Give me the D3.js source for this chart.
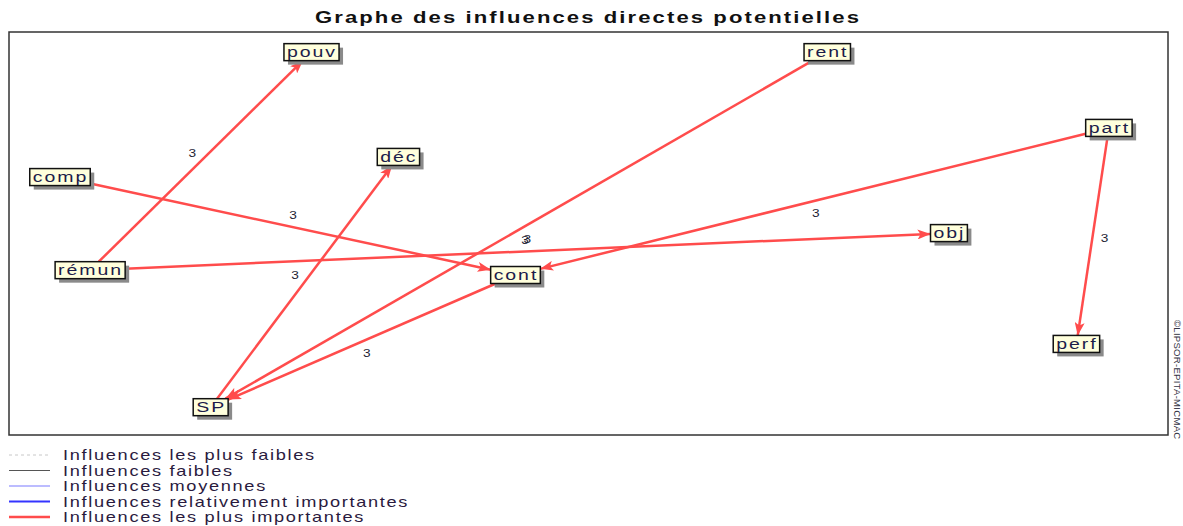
<!DOCTYPE html>
<html>
<head>
<meta charset="utf-8">
<script src="https://cdn.jsdelivr.net/npm/d3@7"></script>
<style>
	body { margin: 0; background: #ffffff; }
	svg { display: block; }
</style>
</head>
<body>
<div id="chart"></div>
<script>
// graphe MICMAC - influences directes potentielles
var titleText = "Graphe des influences directes potentielles";
var copyrightText = "\u00a9LIPSOR-EPITA-MICMAC";

var nodeNames = ["pouv", "rent", "part", "déc", "comp", "obj", "rémun", "cont", "perf", "SP"];
var nodeX = [26.1, 70.6, 94.9, 33.6, 4.4, 81.1, 7.0, 43.7, 92.1, 17.4];
var nodeY = [95.0, 95.0, 76.2, 69.0, 64.0, 50.1, 40.9, 39.7, 22.6, 6.9];

var edgeFrom = ["rémun", "comp", "rémun", "SP", "rent", "part", "cont", "part"];
var edgeTo = ["pouv", "cont", "obj", "déc", "SP", "cont", "SP", "perf"];
var edgeValue = [3, 3, 3, 3, 3, 3, 3, 3];

var legendLabels = [
	"Influences les plus faibles",
	"Influences faibles",
	"Influences moyennes",
	"Influences relativement importantes",
	"Influences les plus importantes"
];

var W = 1183, H = 526;
var frame = {left: 9, top: 32, right: 1168, bottom: 435};
var red = "#ff4c4c";
var stretch = 1.3; // the original texts are drawn wide
var font = "Liberation Sans, Arial, sans-serif";

var svg = d3.select("#chart")
	.append("svg")
	.attr("width", W)
	.attr("height", H);

var x = d3.scaleLinear().domain([0, 100]).range([frame.left, frame.right]);
var y = d3.scaleLinear().domain([0, 100]).range([frame.bottom, frame.top]);

svg.append("text")
	.attr("transform", "translate(588,23) scale(" + stretch + ",1)")
	.attr("text-anchor", "middle")
	.attr("font-family", font)
	.attr("font-weight", "bold")
	.attr("font-size", 17)
	.attr("letter-spacing", 1.6)
	.attr("fill", "#111")
	.text(titleText);

svg.append("rect")
	.attr("x", frame.left)
	.attr("y", frame.top)
	.attr("width", frame.right - frame.left)
	.attr("height", frame.bottom - frame.top)
	.attr("fill", "none")
	.attr("stroke", "#333")
	.attr("stroke-width", 1.5);

svg.append("text")
	.attr("transform", "translate(1174,320) rotate(90)")
	.attr("font-family", font)
	.attr("font-size", 9.5)
	.attr("letter-spacing", 0.3)
	.attr("fill", "#334")
	.text(copyrightText);

svg.append("defs").append("marker")
	.attr("id", "head")
	.attr("markerUnits", "userSpaceOnUse")
	.attr("viewBox", "0 0 13 10")
	.attr("refX", 13)
	.attr("refY", 5)
	.attr("markerWidth", 13)
	.attr("markerHeight", 10)
	.attr("orient", "auto")
	.append("path")
	.attr("d", "M0,0 L13,5 L0,10 L3,5 Z")
	.attr("fill", red);

// nodes: measure labels first so the edges can stop on the boxes
var nodes = {};
var gNodes = svg.append("g");
var layerEdges = svg.insert("g", "g");
nodeNames.forEach(function(name, i){
	var g = gNodes.append("g");
	var t = g.append("text")
		.attr("font-family", font)
		.attr("font-size", 15)
		.attr("letter-spacing", 1.5)
		.attr("fill", "#1c1c4a")
		.text(name);
	var w = t.node().getComputedTextLength() * stretch + 5;
	var h = 17;
	var cx = x(nodeX[i]), cy = y(nodeY[i]);
	nodes[name] = {cx: cx, cy: cy, hw: w / 2, hh: h / 2};
	g.insert("rect", "text")
		.attr("x", cx - w / 2 + 4)
		.attr("y", cy - h / 2 + 4)
		.attr("width", w)
		.attr("height", h)
		.attr("fill", "#8a8a8a");
	g.insert("rect", "text")
		.attr("x", cx - w / 2)
		.attr("y", cy - h / 2)
		.attr("width", w)
		.attr("height", h)
		.attr("fill", "#ffffdc")
		.attr("stroke", "#111")
		.attr("stroke-width", 1.5);
	t.attr("transform", "translate(" + (cx - w / 2 + 3) + "," + (cy + 5) + ") scale(" + stretch + ",1)");
});

function clip(n, dx, dy){
	var tx = dx == 0 ? Infinity : n.hw / Math.abs(dx);
	var ty = dy == 0 ? Infinity : n.hh / Math.abs(dy);
	var t = Math.min(tx, ty);
	return [n.cx + dx * t, n.cy + dy * t];
}

edgeFrom.forEach(function(f, i){
	var a = nodes[f], b = nodes[edgeTo[i]];
	var dx = b.cx - a.cx, dy = b.cy - a.cy;
	var p0 = clip(a, dx, dy);
	var p1 = clip(b, -dx, -dy);
	layerEdges.append("line")
		.attr("x1", p0[0]).attr("y1", p0[1])
		.attr("x2", p1[0]).attr("y2", p1[1])
		.attr("stroke", red)
		.attr("stroke-width", 2.5)
		.attr("marker-end", "url(#head)");
	var len = Math.sqrt(dx * dx + dy * dy);
	var mx = (p0[0] + p1[0]) / 2 + dy / len * 12;
	var my = (p0[1] + p1[1]) / 2 - dx / len * 12;
	layerEdges.append("text")
		.attr("transform", "translate(" + mx + "," + (my + 4) + ") scale(" + stretch + ",1)")
		.attr("text-anchor", "middle")
		.attr("font-family", font)
		.attr("font-size", 10.5)
		.attr("fill", "#223")
		.text(edgeValue[i]);
});

// legende
var legendStyles = [
	{stroke: "#c8c8c8", width: 1, dash: "3,3"},
	{stroke: "#555555", width: 1, dash: null},
	{stroke: "#7a7aff", width: 1.2, dash: null},
	{stroke: "#3434ff", width: 2, dash: null},
	{stroke: red, width: 2.5, dash: null}
];
var legY = d3.scalePoint().domain(d3.range(legendLabels.length)).range([455, 517]);
legendLabels.forEach(function(lab, i){
	var s = legendStyles[i];
	svg.append("line")
		.attr("x1", 9).attr("x2", 50)
		.attr("y1", legY(i)).attr("y2", legY(i))
		.attr("stroke", s.stroke)
		.attr("stroke-width", s.width)
		.attr("stroke-dasharray", s.dash);
	svg.append("text")
		.attr("transform", "translate(63," + (legY(i) + 5) + ") scale(" + stretch + ",1)")
		.attr("font-family", font)
		.attr("font-size", 14)
		.attr("letter-spacing", 1.3)
		.attr("fill", "#2a1a3e")
		.text(lab);
});
</script>
</body>
</html>
